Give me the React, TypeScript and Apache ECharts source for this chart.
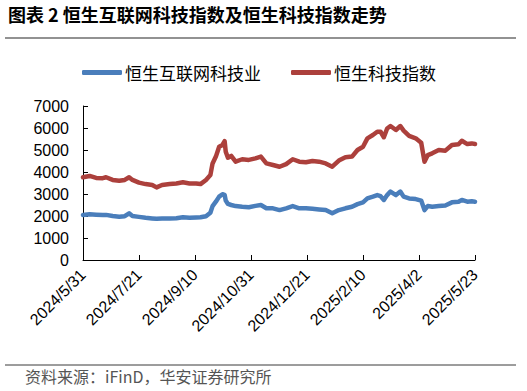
import React, { useEffect, useRef } from "react";
import * as echarts from "echarts";

const dates: string[] = [
  "2024-05-31","2024-06-06","2024-06-12","2024-06-18","2024-06-21","2024-06-27","2024-07-03","2024-07-08",
  "2024-07-12","2024-07-15","2024-07-21","2024-07-27","2024-08-02","2024-08-06","2024-08-11","2024-08-18",
  "2024-08-24","2024-08-30","2024-09-05","2024-09-11","2024-09-15","2024-09-20","2024-09-24","2024-09-26",
  "2024-09-29","2024-10-02","2024-10-05","2024-10-07","2024-10-08","2024-10-10","2024-10-13","2024-10-17",
  "2024-10-23","2024-10-29","2024-11-04","2024-11-09","2024-11-14","2024-11-20","2024-11-26","2024-12-02",
  "2024-12-08","2024-12-14","2024-12-20","2024-12-26","2025-01-01","2025-01-07","2025-01-13","2025-01-19",
  "2025-01-25","2025-01-31","2025-02-05","2025-02-10","2025-02-14","2025-02-19","2025-02-23","2025-02-26",
  "2025-03-01","2025-03-04","2025-03-07","2025-03-12","2025-03-16","2025-03-19","2025-03-24","2025-03-30",
  "2025-04-04","2025-04-07","2025-04-10","2025-04-14","2025-04-20","2025-04-26","2025-05-02","2025-05-08",
  "2025-05-11","2025-05-16","2025-05-20","2025-05-23"
];

const hsTech: number[] = [
  3760,3820,3730,3720,3760,3640,3600,3640,
  3760,3640,3515,3450,3410,3300,3410,3450,
  3480,3530,3480,3480,3450,3640,3860,4390,
  4700,5150,5230,5400,4920,4650,4730,4470,
  4580,4550,4620,4700,4390,4320,4240,4360,
  4580,4470,4440,4500,4470,4390,4240,4520,
  4670,4700,5000,5150,5530,5680,5830,5830,
  5580,5980,6090,5910,6090,5880,5640,5530,
  5330,4470,4770,4850,5000,4970,5230,5260,
  5420,5270,5300,5270
];

const hsInternet: number[] = [
  2045,2080,2060,2045,2050,2000,1970,1990,
  2120,2000,1960,1920,1890,1870,1890,1890,
  1900,1940,1920,1930,1940,1990,2150,2450,
  2650,2880,2990,2960,2700,2550,2500,2450,
  2420,2400,2460,2500,2350,2350,2270,2350,
  2450,2350,2350,2330,2300,2270,2120,2270,
  2350,2420,2540,2620,2800,2880,2950,2900,
  2730,2950,3110,2950,3110,2880,2800,2770,
  2700,2270,2450,2420,2450,2480,2620,2650,
  2730,2650,2670,2650
];

const seriesNames = ["恒生互联网科技业", "恒生科技指数"];
const yTicks = { min: 0, max: 7000, interval: 1000 };
const startDate = "2024-05-31";
const endDate = "2025-05-23";
const tickStepDays = 51;

const DAY = 86400000;
const toUTC = (s: string) => {
  const [y, m, d] = s.split("-").map(Number);
  return Date.UTC(y, m - 1, d);
};
const base = toUTC(startDate);
const dayIdx = (s: string) => Math.round((toUTC(s) - base) / DAY);
const fmtDay = (v: number) => {
  const d = new Date(base + v * DAY);
  return `${d.getUTCFullYear()}/${d.getUTCMonth() + 1}/${d.getUTCDate()}`;
};

export default function App() {
  const ref = useRef<HTMLDivElement>(null);
  useEffect(() => {
    if (!ref.current) return;
    const chart = echarts.init(ref.current, undefined, { renderer: "svg" });
    const cjk = '"Noto Sans CJK SC", "Noto Sans", sans-serif';
    const num = '"Liberation Sans", Arial, sans-serif';
    chart.setOption({
      animation: false,
      backgroundColor: "#fff",
      grid: { left: 83, right: 52, top: 106, bottom: 131, containLabel: false },
      legend: {
        left: 77,
        top: 59,
        itemWidth: 40,
        itemHeight: 5,
        itemGap: 30,
        icon: "roundRect",
        textStyle: { fontFamily: cjk, fontSize: 17, color: "#000", padding: [0, 0, 0, -2] },
        data: seriesNames,
      },
      xAxis: {
        type: "value",
        min: 0,
        max: dayIdx(endDate),
        interval: tickStepDays,
        splitLine: { show: false },
        axisLine: { show: true, lineStyle: { color: "#000", width: 1 } },
        axisTick: { show: true, inside: true, length: 5, lineStyle: { color: "#000" } },
        axisLabel: {
          rotate: 45,
          margin: 12,
          fontFamily: num,
          fontSize: 16,
          color: "#000",
          formatter: (v: number) => fmtDay(v),
        },
      },
      yAxis: {
        type: "value",
        min: yTicks.min,
        max: yTicks.max,
        interval: yTicks.interval,
        splitLine: { show: false },
        axisLine: { show: true, lineStyle: { color: "#000", width: 1 } },
        axisTick: { show: true, inside: true, length: 5, lineStyle: { color: "#000" } },
        axisLabel: {
          margin: 14,
          fontFamily: num,
          fontSize: 16,
          color: "#000",
          formatter: (v: number) => String(v),
        },
      },
      series: [
        {
          name: seriesNames[0],
          type: "line",
          showSymbol: false,
          symbol: "none",
          color: "#4a7ebb",
          lineStyle: { width: 4.5, color: "#4a7ebb", cap: "round", join: "round" },
          data: dates.map((d, i) => [dayIdx(d), hsInternet[i]]),
        },
        {
          name: seriesNames[1],
          type: "line",
          showSymbol: false,
          symbol: "none",
          color: "#ac403c",
          lineStyle: { width: 4.5, color: "#ac403c", cap: "round", join: "round" },
          data: dates.map((d, i) => [dayIdx(d), hsTech[i]]),
        },
      ],
      graphic: [
        {
          type: "text",
          left: 8,
          top: 5,
          style: {
            text: "图表 2 恒生互联网科技指数及恒生科技指数走势",
            font: `bold 18px ${cjk}`,
            fill: "#000",
          },
        },
        {
          type: "line",
          shape: { x1: 5, y1: 38, x2: 516, y2: 38 },
          style: { stroke: "#6e6e6e", lineWidth: 1.5 },
        },
        {
          type: "line",
          shape: { x1: 5, y1: 365, x2: 516, y2: 365 },
          style: { stroke: "#3a3a3a", lineWidth: 1 },
        },
        {
          type: "text",
          left: 25,
          top: 368,
          style: {
            text: "资料来源：iFinD，华安证券研究所",
            font: `16px ${cjk}`,
            fill: "#555",
          },
        },
      ],
    });
    return () => chart.dispose();
  }, []);
  return (
    <div
      ref={ref}
      style={{ width: 527, height: 391, position: "fixed", left: 0, top: 0 }}
    />
  );
}
